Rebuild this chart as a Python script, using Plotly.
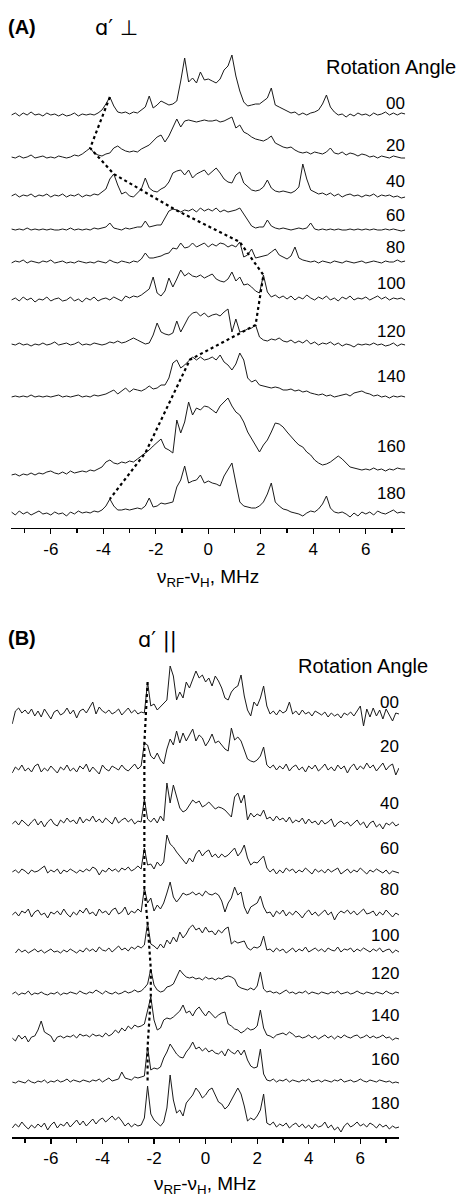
import numpy as np
import plotly.graph_objects as go

# ---------------- data ----------------
angles = ["00", "20", "40", "60", "80", "100", "120", "140", "160", "180"]

# Panel A: frequency grid (MHz) and intensities (arb. units) per rotation angle
freq_A = np.round(np.arange(-7.5, 7.5001, 0.15), 3)

A_00 = [1, 3, 0, 3, 1, 4, 1, 2, 0, 3,
        1, 2, 0, 2, 0, 1, 3, 0, 2, 1,
        2, 1, 3, 6, 12, 19, 10, 4, 3, 4,
        2, 4, 3, 6, 9, 20, 8, 11, 15, 13,
        11, 12, 15, 35, 58, 34, 38, 33, 44, 36,
        37, 35, 33, 37, 46, 50, 61, 40, 25, 14,
        10, 11, 12, 12, 15, 18, 28, 11, 9, 7,
        5, 3, 4, 1, 3, 1, 3, 4, 6, 12,
        21, 9, 4, 1, 2, -1, 2, 0, 3, 1,
        2, 0, 3, 1, 2, 4, 1, 3, 1, 3,
        2]
A_20 = [1, 0, 2, 0, 1, 3, 0, 1, 2, 0,
        1, 0, 2, 1, 0, 1, 3, 2, 4, 7,
        10, 5, 3, 2, 4, 5, 10, 12, 9, 7,
        6, 7, 6, 9, 11, 13, 17, 21, 23, 16,
        22, 31, 39, 31, 37, 38, 37, 36, 37, 38,
        37, 37, 38, 36, 37, 39, 41, 30, 33, 26,
        24, 21, 19, 18, 17, 19, 22, 15, 13, 11,
        10, 11, 8, 6, 5, 6, 4, 6, 5, 4,
        6, 10, 5, 4, 6, 3, 5, 4, 2, 4,
        3, 1, 2, 0, 2, 1, 0, 2, 1, 0,
        0]
A_40 = [1, 3, 0, 2, 1, 3, 0, 2, 1, 3,
        0, 2, 1, 3, 0, 2, 1, 3, 0, 2,
        1, 3, 2, 5, 8, 18, 23, 12, 3, 5,
        1, 0, 4, 8, 19, 9, 6, 5, 8, 10,
        15, 24, 26, 27, 22, 27, 19, 23, 25, 27,
        22, 26, 29, 24, 18, 15, 14, 22, 25, 14,
        10, 7, 6, 7, 10, 17, 9, 6, 5, 6,
        5, 4, 6, 10, 33, 18, 7, 5, 3, 4,
        2, 4, 1, 3, 0, 2, 3, 1, 2, 0,
        2, 1, 3, 0, 2, 1, 2, 0, 1, -1,
        0]
A_60 = [1, 0, 1, 0, 2, 0, 1, 0, 1, 0,
        1, 0, 0, 1, 0, 2, 0, 1, 0, 1,
        0, 2, 1, 2, 3, 7, 2, 1, 0, 2,
        1, 2, 3, 3, 9, 3, 4, 5, 5, 12,
        19, 21, 20, 18, 20, 19, 21, 18, 22, 19,
        21, 19, 22, 18, 20, 18, 19, 20, 22, 16,
        9, 4, 2, 3, 3, 10, 4, 2, 1, 2,
        1, 0, 1, 2, 1, 2, 7, 1, 0, 1,
        0, 1, 0, 1, 0, 0, 1, 0, 1, 0,
        1, 0, 1, 0, 0, 1, 0, 1, 0, -1,
        0]
A_80 = [0, 2, 1, 3, 0, 2, 1, 0, 2, 1,
        3, 0, 1, 2, 0, 1, 0, 2, 1, 0,
        1, 0, 2, 1, 0, 3, 1, 0, 2, 1,
        0, 2, 1, 4, 10, 5, 5, 6, 7, 9,
        10, 15, 14, 20, 15, 16, 20, 16, 18, 20,
        16, 19, 17, 20, 19, 16, 18, 16, 21, 6,
        8, 14, 5, 6, 7, 8, 11, 14, 8, 6,
        4, 7, 16, 5, 3, 2, 1, 2, 0, 2,
        1, 0, 2, 1, 0, 2, 1, 0, 1, 2,
        0, 1, 2, 1, 0, 2, 1, 1, 3, 1,
        2]
A_100 = [1, 3, 0, 4, 1, 3, -1, 2, 1, 4,
         0, 2, 3, 0, 1, 4, 0, 2, -1, 3,
         1, 4, 0, 2, 3, 1, 4, 2, 0, 5,
         3, 5, 4, 6, 9, 12, 24, 8, 5, 10,
         23, 14, 22, 31, 25, 28, 25, 24, 26, 23,
         25, 27, 22, 20, 19, 22, 29, 20, 24, 16,
         17, 14, 10, 8, 26, 9, 4, 6, 3, 5,
         2, 5, 1, 4, 2, 6, 3, 1, 4, 2,
         5, 1, 3, 0, 4, 2, 5, 1, 3, 2,
         4, 1, 3, 5, 2, 4, 1, 3, 2, 3,
         1]
A_120 = [1, 0, 2, 0, 1, -1, 1, 0, 2, 0,
         1, 3, 0, 1, 2, 0, 1, 3, 0, 1,
         0, 2, 1, 0, 1, 3, 2, 4, 2, 3,
         5, 7, 5, 3, 1, 2, 10, 22, 13, 11,
         10, 12, 24, 13, 20, 28, 32, 33, 29, 32,
         28, 30, 31, 29, 33, 36, 13, 26, 13, 14,
         16, 17, 20, 8, 5, 4, 6, 5, 7, 4,
         3, 5, 2, 4, 2, 5, 1, 3, 0, 2,
         1, 3, 0, 2, -1, 1, 0, -2, 1, 0,
         1, 0, 2, 0, 1, -1, 0, 2, -1, 1,
         0]
A_140 = [0, 1, 0, 1, 0, 2, 0, 1, 0, 1,
         0, 1, 2, 0, 1, 0, 1, 2, 0, 1,
         0, 2, 1, 2, 3, 5, 7, 3, 6, 9,
         5, 8, 7, 6, 8, 11, 8, 9, 12, 12,
         19, 34, 37, 29, 32, 36, 40, 37, 40, 37,
         38, 40, 37, 42, 35, 32, 27, 33, 44, 37,
         19, 15, 17, 12, 11, 10, 9, 10, 9, 7,
         7, 8, 6, 7, 5, 6, 4, 3, 2, 3,
         1, 2, 0, 1, 2, 3, 1, 4, 5, 6,
         4, 3, 1, 2, 0, 1, -1, 1, 0, 1,
         0]
A_160 = [-3, -2, -4, -2, -3, -1, -3, -1, -2, 0,
         1, -1, -2, 0, -2, 1, -1, 0, 1, 0,
         2, 1, 3, 5, 10, 12, 9, 8, 10, 9,
         11, 10, 13, 16, 19, 22, 26, 30, 33, 24,
         22, 19, 52, 39, 50, 70, 57, 64, 62, 66,
         65, 62, 59, 66, 70, 74, 66, 60, 57, 50,
         40, 33, 27, 20, 27, 32, 40, 49, 48, 45,
         40, 35, 31, 27, 25, 20, 17, 12, 9, 7,
         8, 10, 13, 16, 13, 9, 5, 4, 3, 2,
         3, 2, 4, 2, 3, 1, 3, 2, 4, 3,
         3]
A_180 = [2, -1, 3, 0, 2, -1, 1, 3, 0, 1,
         -1, 2, 0, 1, -2, 2, 0, 3, 1, 2,
         1, 3, 2, 4, 8, 15, 8, 4, 4, 5,
         4, 5, 6, 5, 8, 16, 7, 8, 11, 10,
         11, 12, 27, 34, 48, 31, 33, 34, 39, 31,
         33, 31, 30, 28, 38, 45, 51, 31, 12, 8,
         7, 6, 6, 8, 12, 20, 31, 12, 8, 5,
         4, 2, 1, 0, -2, 1, 3, 2, 5, 10,
         18, 6, 2, 1, 2, 0, -3, 1, -2, 2,
         0, 2, -1, 3, 1, 0, 2, 4, 1, 2,
         1]
spectra_A = [A_00, A_20, A_40, A_60, A_80, A_100, A_120, A_140, A_160, A_180]
# peak followed by the dotted guide line in panel A (MHz)
guide_A = [-3.75, -4.5, -3.6, -1.27, 1.2, 2.1, 1.8, -0.7, -2.4, -3.75]

# Panel B: frequency grid (MHz) and intensities
freq_B = np.round(np.arange(-7.5, 7.5001, 0.125), 4)

B_00 = [-8, 5, 8, 3, 6, 2, 7, 0,
        5, -1, 7, 2, -3, 4, 6, 1,
        3, 8, 2, 6, -2, 5, 7, 3,
        8, 14, 2, 9, 5, 3, 6, 2,
        4, 7, 1, 5, 8, 3, 6, 2,
        4, 3, 34, 10, 12, 6, 9, 13,
        16, 50, 40, 16, 24, 18, 34, 28,
        36, 45, 38, 41, 34, 38, 30, 40,
        35, 28, 18, 16, 24, 28, 30, 41,
        20, 6, 0, 14, 10, 18, 30, 10,
        2, 5, 1, 6, 3, 5, 14, 2,
        5, 1, 6, 2, 4, 0, 5, 3,
        1, 4, -1, 3, 0, 2, -2, 3,
        1, 4, 0, 5, 10, -10, 7, -1,
        8, 0, 6, -3, 7, 1, -5, 3,
        2]
B_20 = [-2, 4, 1, 6, 0, 3, -1, 5,
        7, -1, 3, 0, 5, 2, -2, 4,
        1, 6, 0, 3, -1, 5, 2, 7,
        -1, 4, 1, -3, 6, 2, 0, 5,
        3, 1, 6, 2, 0, 4, 7, 2,
        5, 28, 26, 15, 12, 18, 11, 7,
        22, 32, 26, 40, 28, 38, 30, 36,
        42, 30, 36, 33, 25, 30, 37, 28,
        30, 26, 22, 20, 43, 31, 34, 30,
        22, 12, 10, 9, 11, 15, 24, 6,
        3, 6, 1, 5, 2, 7, 0, 4,
        6, 1, 4, -1, 5, 2, 6, 0,
        3, 7, 1, 4, 0, 6, 2, 5,
        -2, 4, 7, 1, 5, 2, 8, 3,
        6, 0, 4, 8, 1, 5, 7, -4,
        3]
B_40 = [1, 4, 0, 5, 2, -1, 3, 6,
        0, 4, -2, 3, 6, 1, -1, 5,
        2, 7, 3, 5, 1, 8, 2, 6,
        4, 9, 3, 6, 2, 7, 4, 1,
        8, 2, 5, 7, 3, 6, 1, 4,
        3, 26, 6, 3, 7, 2, 9, 4,
        42, 22, 40, 28, 17, 13, 15, 20,
        25, 22, 24, 18, 20, 23, 19, 16,
        18, 17, 15, 12, 8, 28, 32, 22,
        30, 5, 12, 8, 11, 9, 15, 6,
        8, 4, 9, 5, 7, 3, 8, 2,
        5, 3, 7, 1, 6, 2, 4, 0,
        5, 1, 3, 6, -2, 2, 4, 1,
        3, -1, 2, 5, 0, 3, -3, 2,
        4, -2, 1, -4, 2, 0, 3, -1,
        1]
B_60 = [0, 2, -1, 3, 1, -2, 2, 0,
        1, 4, 6, -1, 2, 0, 3, -2,
        2, 0, 3, 1, -1, 2, 0, 3,
        1, 5, 3, -3, 2, 0, 4, 1,
        3, 0, 4, 2, 5, 1, 3, 6,
        3, 24, 7, 8, 3, 10, 6, 10,
        37, 28, 25, 20, 16, 12, 8, 14,
        10, 18, 22, 16, 20, 22, 15, 18,
        14, 18, 15, 17, 20, 24, 16, 20,
        27, 14, 7, 10, 9, 12, 16, 4,
        0, 3, -2, 2, -1, 4, 1, 3,
        -1, 2, 0, 4, 1, -2, 3, 0,
        2, -1, 3, 0, 2, 4, -2, 1,
        3, -1, 2, 0, 4, 1, -2, 2,
        0, 3, 1, -1, 2, -2, 1, 0,
        -1]
B_80 = [0, 3, -1, 4, 2, 6, -2, 3,
        5, 0, 2, -3, 3, 1, 4, 0,
        6, 1, -2, 3, 0, 5, 2, 7,
        1, 3, -1, 6, 2, 4, 0, 5,
        7, 1, 3, 8, 0, 4, 2, 6,
        3, 27, 12, 17, 4, 10, 6, 12,
        22, 33, 18, 13, 17, 22, 20, 21,
        23, 20, 22, 19, 24, 21, 20, 22,
        20, 14, 3, 12, 17, 28, 20, 23,
        8, 1, 8, 10, 12, 19, 8, 2,
        3, -2, 4, 1, 5, -1, 3, 0,
        4, 1, -3, 2, 5, 0, 3, -1,
        2, 5, 0, 3, -5, 1, 4, 2,
        5, 1, 4, 0, 3, 6, 1, 2,
        4, -1, 3, 0, 5, 1, -2, 2,
        0]
B_100 = [None, -1, 3, 0, 2, -1, 1, 3,
         0, 2, -1, 1, 3, 0, 1, -1,
         2, 0, 3, 1, -1, 2, 0, 4,
         1, 3, 0, 5, 2, 1, 4, 0,
         3, 6, 2, 4, 1, 5, 3, 6,
         4, 7, 29, 8, 6, 3, 8, 4,
         12, 8, 15, 10, 20, 14, 18, 24,
         27, 22, 24, 19, 25, 20, 21, 17,
         22, 19, 23, 25, 8, 11, 9, 10,
         11, 4, 2, 5, 4, 6, 16, 2,
         3, 0, 4, 1, 3, -1, 2, 4,
         0, 3, 1, 5, 0, 2, 4, 1,
         3, 0, 4, 2, 1, 5, 0, 3,
         2, 4, 0, 3, 1, 4, 2, 0,
         3, 1, 4, 0, 2, 3, -1, 2,
         0]
B_120 = [0, 2, -1, 1, 0, 3, -1, 1,
         0, 2, 0, -1, 1, 0, 2, -1,
         1, 0, 2, 1, 0, 3, 1, 0,
         2, 1, 4, 2, 0, 3, 1, 0,
         2, 0, 1, 3, 1, 2, 4, 2,
         3, 6, 10, 25, 9, 4, 2, 3,
         7, 8, 10, 17, 24, 20, 17, 16,
         17, 15, 16, 14, 17, 15, 16, 14,
         16, 15, 17, 18, 17, 15, 8, 6,
         5, 4, 6, 4, 8, 22, 5, 2,
         3, 1, 2, 0, 2, 4, 1, 2,
         0, 2, 1, 3, 0, 2, 1, 0,
         2, 1, 0, 2, 1, 3, 0, 1,
         2, 0, 1, 3, 1, 0, 2, 1,
         0, 2, 1, 0, 3, 1, 0, 2,
         1]
B_140 = [0, -3, 3, -1, 2, -4, 1, 2,
         8, 17, 6, 4, 2, -4, 1, 2,
         0, 2, 1, 3, 0, 4, 2, 3,
         1, 4, 2, 3, 1, 5, 2, 4,
         8, 5, 10, 7, 12, 9, 13, 11,
         12, 14, 28, 41, 18, 8, 10, 18,
         20, 19, 21, 24, 27, 33, 25, 27,
         22, 28, 31, 26, 22, 27, 24, 20,
         23, 25, 26, 14, 12, 9, 8, 5,
         7, 10, 8, 9, 12, 28, 10, 3,
         2, 0, 3, 4, 5, 3, 6, 4,
         1, 2, 0, 1, 3, 0, 2, -1,
         1, 3, 0, 2, -1, 2, 0, 3,
         1, 0, 2, 3, 0, 1, 3, 0,
         2, 0, 1, 3, 0, 1, -2, 0,
         -1]
B_160 = [0, -1, 1, 0, -1, 2, 0, -1,
         1, 0, 2, -1, 1, 0, 2, 0,
         1, 3, 0, 2, 1, 0, 2, 1,
         0, 2, 1, 3, 0, 2, 4, 1,
         2, 3, 10, 4, 3, 2, 5, 4,
         5, 6, 35, 12, 14, 13, 15, 24,
         30, 38, 33, 28, 25, 24, 30, 34,
         40, 33, 35, 31, 34, 30, 32, 29,
         28, 31, 26, 33, 30, 28, 32, 27,
         32, 22, 16, 14, 15, 33, 8, 2,
         1, 3, 0, 2, 1, 3, 0, 2,
         1, 0, 2, 1, 3, 0, 1, 2,
         0, 2, 1, 0, 2, 1, 3, 0,
         1, 2, 0, 1, 3, 1, 0, 2,
         1, 0, 2, 1, 0, 1, -1, 0,
         -1]
B_180 = [0, 4, 1, 6, 2, -1, 3, 0,
         4, 1, 5, -2, 3, 6, 0, 4,
         2, 6, 1, 5, 8, 3, 7, 2,
         5, 9, 4, 8, 10, 6, 9, 12,
         8, 11, 7, 2, 5, 1, 4, 2,
         3, 10, 42, 14, 8, 5, 2, 6,
         20, 53, 28, 15, 18, 12, 25, 29,
         33, 40, 36, 30, 33, 38, 40, 33,
         26, 24, 19, 22, 28, 35, 40, 34,
         22, 7, 10, 8, 12, 18, 34, 5,
         3, 6, 1, 4, 2, 5, 0, 3,
         5, 1, 4, 0, 3, -1, 4, 1,
         2, 6, 0, 3, -2, 1, -4, 2,
         5, 1, 3, 6, 2, 4, 1, 5,
         3, 0, 4, 1, 3, -1, 2, 0,
         1]
spectra_B = [B_00, B_20, B_40, B_60, B_80, B_100, B_120, B_140, B_160, B_180]
guide_B = [-2.25, -2.375, -2.375, -2.375, -2.375, -2.25, -2.125, -2.125, -2.25]

tick_vals = [-6, -4, -2, 0, 2, 4, 6]
tick_text = ["-6", "-4", "-2", "0", "2", "4", "6"]

# ---------------- layout constants (pixels of the 465x1199 page) ----------------
W, H = 465, 1199
FONT = "Liberation Sans, Arial, sans-serif"
LINE = "#1a1a1a"

A_axis_px, A_top_px = 527.7, 30.0
B_axis_px, B_top_px = 1137.0, 640.0
A_base_px = [116, 158, 197, 230, 263, 301, 345, 397, 472, 514]
B_base_px = [716, 771, 825, 872, 915, 952, 994, 1038, 1082, 1128]
A_lab_px = [103.5, 145, 182, 215, 247, 284, 331, 376, 446, 493]
B_lab_px = [702, 747, 803, 848, 889, 935, 973, 1015, 1059, 1103]


def py(p):
    return 1 - p / H


def px(p):
    return p / W


fig = go.Figure()

# Panel A traces
for vals, base in zip(spectra_A, A_base_px):
    off = A_axis_px - base
    y = off + np.array(vals, dtype=float)
    fig.add_trace(go.Scatter(x=freq_A, y=y, mode="lines", xaxis="x", yaxis="y",
                             line=dict(color=LINE, width=1), hoverinfo="skip",
                             showlegend=False))
gx, gy = [], []
for g, vals, base in zip(guide_A, spectra_A, A_base_px):
    off = A_axis_px - base
    gx.append(g)
    gy.append(off + np.interp(g, freq_A, np.array(vals, dtype=float)))
fig.add_trace(go.Scatter(x=gx, y=gy, mode="lines", xaxis="x", yaxis="y",
                         line=dict(color="black", width=2.2, dash="dot"),
                         hoverinfo="skip", showlegend=False))

# Panel B traces
for vals, base in zip(spectra_B, B_base_px):
    off = B_axis_px - base
    y = off + np.array(vals, dtype=float)
    fig.add_trace(go.Scatter(x=freq_B, y=y, mode="lines", xaxis="x2", yaxis="y2",
                             line=dict(color=LINE, width=1), hoverinfo="skip",
                             showlegend=False))
gx, gy = [], []
for g, vals, base in zip(guide_B, spectra_B, B_base_px):
    off = B_axis_px - base
    arr = np.array(vals, dtype=float)
    ok = ~np.isnan(arr)
    gx.append(g)
    gy.append(off + np.interp(g, freq_B[ok], arr[ok]))
gx.append(guide_B[-1])
gy.append(B_axis_px - B_base_px[8])
fig.add_trace(go.Scatter(x=gx, y=gy, mode="lines", xaxis="x2", yaxis="y2",
                         line=dict(color="black", width=2.2, dash="dot"),
                         hoverinfo="skip", showlegend=False))

xcommon = dict(range=[-7.5, 7.5], showgrid=False, zeroline=False, showline=True,
               linecolor="black", linewidth=1.5, ticks="outside", ticklen=5,
               tickwidth=1.3, tickcolor="black", tickvals=tick_vals, ticktext=tick_text,
               tickfont=dict(family=FONT, size=17, color="black"),
               minor=dict(dtick=1, tick0=-7, ticks="outside", ticklen=4, tickwidth=1.3,
                          tickcolor="black"),
               fixedrange=True)

fig.update_layout(
    width=W, height=H, margin=dict(l=0, r=0, t=0, b=0),
    paper_bgcolor="white", plot_bgcolor="white", hovermode=False,
    xaxis=dict(domain=[px(11.4), px(405.2)], anchor="y", **xcommon),
    yaxis=dict(domain=[py(A_axis_px), py(A_top_px)], range=[0, A_axis_px - A_top_px],
               visible=False, fixedrange=True),
    xaxis2=dict(domain=[px(12.2), px(399.0)], anchor="y2", **xcommon),
    yaxis2=dict(domain=[py(B_axis_px), py(B_top_px)], range=[0, B_axis_px - B_top_px],
                visible=False, fixedrange=True),
)

ann = []
for lab, ly in zip(angles, A_lab_px):
    ann.append(dict(x=px(407), y=py(ly), xref="paper", yref="paper", text=lab,
                    showarrow=False, xanchor="right", yanchor="middle",
                    font=dict(family=FONT, size=17, color="black")))
for lab, ly in zip(angles, B_lab_px):
    ann.append(dict(x=px(401), y=py(ly), xref="paper", yref="paper", text=lab,
                    showarrow=False, xanchor="right", yanchor="middle",
                    font=dict(family=FONT, size=17, color="black")))

ann += [
    dict(x=px(324), y=py(67), xref="paper", yref="paper", text="Rotation Angle",
         showarrow=False, xanchor="left", yanchor="middle",
         font=dict(family=FONT, size=20, color="black")),
    dict(x=px(296), y=py(666), xref="paper", yref="paper", text="Rotation Angle",
         showarrow=False, xanchor="left", yanchor="middle",
         font=dict(family=FONT, size=20, color="black")),
    dict(x=px(6), y=py(27), xref="paper", yref="paper", text="<b>(A)</b>",
         showarrow=False, xanchor="left", yanchor="middle",
         font=dict(family=FONT, size=20, color="black")),
    dict(x=px(6), y=py(638), xref="paper", yref="paper", text="<b>(B)</b>",
         showarrow=False, xanchor="left", yanchor="middle",
         font=dict(family=FONT, size=20, color="black")),
    dict(x=px(93), y=py(28), xref="paper", yref="paper", text="ɑ′ ⊥",
         showarrow=False, xanchor="left", yanchor="middle",
         font=dict(family="DejaVu Sans", size=21, color="black")),
    dict(x=px(136), y=py(640), xref="paper", yref="paper", text="ɑ′ ||",
         showarrow=False, xanchor="left", yanchor="middle",
         font=dict(family="DejaVu Sans", size=21, color="black")),
    dict(x=px(208), y=py(578), xref="paper", yref="paper",
         text="ν<sub>RF</sub>-ν<sub>H</sub>, MHz",
         showarrow=False, xanchor="center", yanchor="middle",
         font=dict(family=FONT, size=19, color="black")),
    dict(x=px(205), y=py(1185), xref="paper", yref="paper",
         text="ν<sub>RF</sub>-ν<sub>H</sub>, MHz",
         showarrow=False, xanchor="center", yanchor="middle",
         font=dict(family=FONT, size=19, color="black")),
]
fig.update_layout(annotations=ann)

fig.write_html("out.html", config={"displayModeBar": False, "staticPlot": True},
               post_script="document.body.style.margin='0';document.body.style.padding='0';")
